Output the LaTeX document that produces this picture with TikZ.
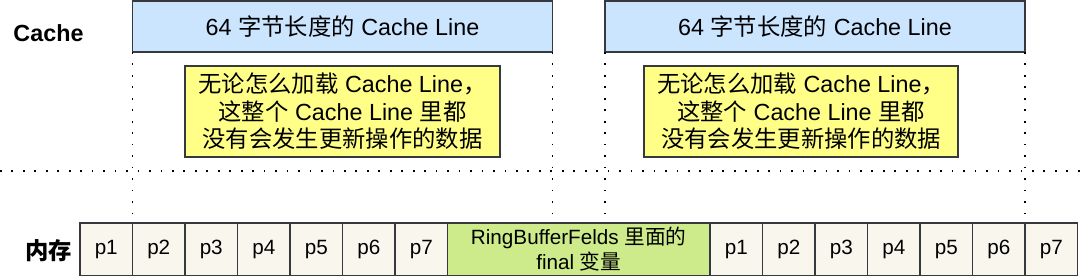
\documentclass[tikz,border=0pt]{standalone}
\usepackage{fontspec}
\setmainfont{Liberation Sans}
\newfontfamily\cjk{Noto Sans CJK SC}
\usetikzlibrary{positioning}

\definecolor{linefill}{HTML}{CCE5FF}
\definecolor{notefill}{HTML}{FFFF88}
\definecolor{cellfill}{HTML}{F9F7ED}
\definecolor{ringfill}{HTML}{CDEB8B}
\definecolor{edgegray}{HTML}{36393D}

\tikzset{
  box/.style={draw=edgegray, line width=1pt, inner sep=0pt, outer sep=0pt, align=center},
  cacheline/.style={box, fill=linefill, minimum width=315pt, minimum height=38.25pt,
    font=\fontsize{17.5}{21}\selectfont},
  note/.style={box, fill=notefill, minimum height=68.25pt,
    font=\fontsize{17.5}{20.6}\selectfont},
  cell/.style={box, fill=cellfill, minimum width=39.375pt, minimum height=39.375pt,
    font=\fontsize{15.5}{19}\selectfont},
  ringbuf/.style={cell, fill=ringfill, minimum width=196.875pt},
  rowlabel/.style={font=\fontsize{17.5}{20}\selectfont\bfseries},
  dots/.style={line width=1.3pt, dash pattern=on 1.3pt off 7.3pt}
}

\begin{document}
\begin{tikzpicture}[x=0.75pt,y=-0.75pt,node distance=0pt]
  \useasboundingbox (0,0) rectangle (1080,278);

  % cache row
  \node[rowlabel] (cachelbl) at (48.5,33) {Cache};
  \node[cacheline] (line1) at (342.5,26.5) {64 {\cjk 字节长度的} Cache Line};
  \node[cacheline] (line2) at (815,26.5) {64 {\cjk 字节长度的} Cache Line};
  \node[note, minimum width=236.25pt] (note1) at (342.5,111.5)
    {{\cjk 无论怎么加载} Cache Line{\cjk ，}\\{\cjk 这整个} Cache Line {\cjk 里都}\\{\cjk 没有会发生更新操作的数据}};
  \node[note, minimum width=235.5pt] (note2) at (801,111.5)
    {{\cjk 无论怎么加载} Cache Line{\cjk ，}\\{\cjk 这整个} Cache Line {\cjk 里都}\\{\cjk 没有会发生更新操作的数据}};

  % memory row
  \node[rowlabel] (memlbl) at (48.5,251) {\cjk\bfseries 内存};
  \node[cell] (m1) at (106.25,249.25) {p1};
  \node[cell] (m2) [right=of m1] {p2};
  \node[cell] (m3) [right=of m2] {p3};
  \node[cell] (m4) [right=of m3] {p4};
  \node[cell] (m5) [right=of m4] {p5};
  \node[cell] (m6) [right=of m5] {p6};
  \node[cell] (m7) [right=of m6] {p7};
  \node[ringbuf] (ring) [right=of m7] {RingBufferFelds {\cjk 里面的}\\final {\cjk 变量}};
  \node[cell] (n1) [right=of ring] {p1};
  \node[cell] (n2) [right=of n1] {p2};
  \node[cell] (n3) [right=of n2] {p3};
  \node[cell] (n4) [right=of n3] {p4};
  \node[cell] (n5) [right=of n4] {p5};
  \node[cell] (n6) [right=of n5] {p6};
  \node[cell] (n7) [right=of n6] {p7};

  % dotted guides
  \coordinate (sepL) at (0,171);
  \coordinate (sepR) at (1080,171);
  \draw[dots] (sepL) -- (sepR);
  \draw[dots] (line1.south west) -- (m2.north west);
  \draw[dots] (line1.south east) -- (line1.south east |- ring.north);
  \draw[dots] (line2.south west) -- (line2.south west |- ring.north);
  \draw[dots] (line2.south east) -- (n7.north west);
\end{tikzpicture}
\end{document}
